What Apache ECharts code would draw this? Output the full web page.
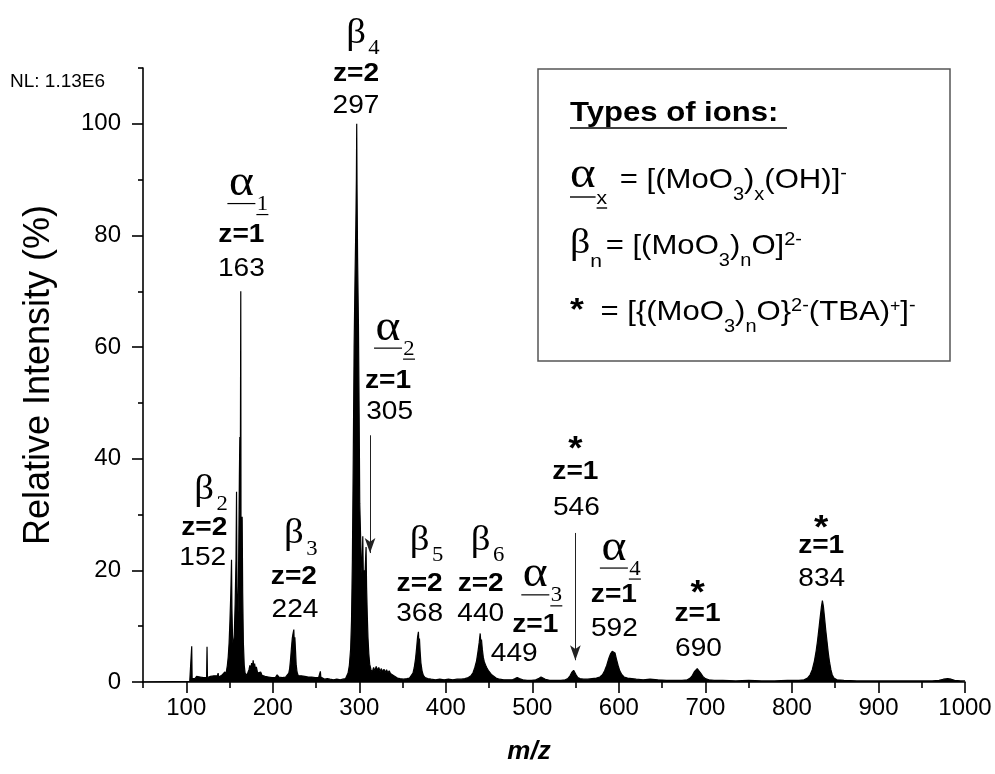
<!DOCTYPE html>
<html><head><meta charset="utf-8">
<script src="https://cdn.jsdelivr.net/npm/echarts@6/dist/echarts.min.js"></script>
<style>html,body{margin:0;padding:0;background:#fff}#c{width:995px;height:774px}</style>
</head><body><div id="c"></div>
<script>
// ---------- DATA ----------
const spectrum = [
[50,0],[104,0.1],[105.8,0.3],[106.3,6.4],[106.8,0.6],[108,0.9],[110,0.6],[112,1.0],[114,0.7],[116,0.9],[118,0.6],[120,0.8],[122,0.6],[123.5,0.8],[124,6.3],[124.5,0.8],[126,0.7],[128,1.0],[130,0.8],[132,1.1],[134,0.8],[136,1.1],[136.8,1.6],[137.5,0.9],[139,1.0],[141,1.2],[143,1.1],[144.6,1.8],[145.3,1.2],[146.5,2.0],[147.5,3.0],[148.5,4.5],[149.5,7],[150.5,11],[151.5,16],[152.3,21.9],[152.8,13],[153.5,8],[154.5,6],[155.5,8.5],[156.5,14],[157.5,22],[158.1,34.1],[158.6,17],[159.3,11],[160,13],[160.8,26],[161.4,37],[161.9,43.9],[162.4,31],[163,70],[163.3,24],[164,27],[164.6,29.6],[165.2,16],[166,7],[167,3],[168,1.6],[169.5,1.2],[171,1.6],[172.5,2.2],[173.5,3.0],[174.5,2.2],[175.5,3.4],[176.5,2.5],[177.3,3.9],[178,2.8],[179,3.3],[180,2.2],[181,2.7],[182.5,1.6],[184,1.3],[186,1.8],[187.5,1.2],[189,1.5],[191,1.0],[193,1.3],[195,0.9],[197,1.2],[199,0.8],[201,1.1],[203,0.8],[205,1.3],[207,0.9],[209,1.1],[211,0.8],[213,1.0],[215,0.9],[217,1.2],[218.5,1.6],[219.5,2.4],[220.5,4],[221.5,6],[222.5,7.8],[223.3,8.6],[224.3,9.4],[224.8,7.2],[225.5,8.0],[226.3,5.5],[227,3.2],[228,1.8],[229.5,1.1],[231,0.9],[233,1.1],[235,0.8],[237,1.0],[239,0.7],[241,0.9],[243,0.7],[245,0.9],[247,0.6],[249,0.8],[251,0.6],[253,0.8],[254.5,1.0],[255,1.9],[255.5,0.9],[257,0.6],[260,0.5],[263,0.6],[266,0.5],[270,0.4],[274,0.5],[278,0.4],[281,0.5],[284,0.6],[285.5,0.9],[287,1.6],[288.5,3],[290,6],[291,11],[292,22],[293,40],[294,60],[295,72],[296,82],[296.6,90],[297,100],[297.4,88],[298,76],[299,64],[299.8,48],[300.5,32],[301.5,26],[302.5,21],[303.3,19],[304,26.1],[304.8,17],[305.5,20],[306.3,18],[307,21],[307.8,24.2],[308.4,17],[309.2,12],[310,8],[311,5],[312,3.2],[313.5,2.2],[315,1.8],[316.5,2.6],[318,2.0],[319.5,2.8],[321,2.1],[322.5,2.6],[324,1.9],[325.5,2.4],[327,1.8],[328.5,2.3],[330,1.7],[331.5,2.2],[333,1.6],[334.5,2.0],[336,1.5],[337.5,1.8],[339,1.2],[341,0.9],[344,0.7],[347,0.6],[351,0.5],[355,0.6],[358,0.7],[360,1.0],[362,1.6],[363.5,2.6],[365,4.2],[366.3,6.2],[367.3,8],[368.3,9.0],[368.8,7.2],[369.5,7.8],[370.3,5.4],[371.2,3.4],[372.5,2.0],[374,1.2],[376,0.8],[379,0.6],[383,0.5],[388,0.4],[393,0.5],[398,0.4],[403,0.5],[408,0.4],[413,0.5],[418,0.5],[422,0.6],[426,0.8],[429,1.1],[431.5,1.7],[433.5,2.6],[435.5,3.8],[437,5.3],[438.5,7],[439.7,8.7],[440.4,7.2],[441.2,7.6],[442.2,5.8],[443.3,4.4],[444.5,3.6],[446,3.0],[447.5,2.5],[449,2.1],[451,1.7],[453,1.3],[455,1.0],[458,0.7],[462,0.5],[467,0.4],[472,0.4],[477,0.4],[480,0.6],[482.5,0.8],[485,0.6],[489,0.4],[494,0.3],[499,0.3],[504,0.4],[507,0.6],[510,0.9],[512,0.8],[515,0.5],[520,0.3],[527,0.3],[533,0.3],[538,0.4],[541,0.6],[543.5,1.1],[545.5,1.7],[547.7,2.1],[549,1.8],[550.5,1.3],[552.5,0.8],[555,0.6],[559,0.5],[564,0.5],[569,0.6],[574,0.7],[578,0.9],[581,1.3],[583.5,2.0],[586,3.0],[588.5,4.3],[590.5,5.1],[592.3,5.5],[594,5.8],[595.5,5.2],[597,4.2],[599,3.0],[601,2.0],[603.5,1.3],[606,0.9],[610,0.7],[615,0.6],[620,0.5],[628,0.4],[636,0.5],[645,0.4],[655,0.3],[665,0.3],[673,0.3],[679,0.4],[682.5,0.7],[685,1.2],[687.5,1.9],[690.5,2.4],[692.5,2.1],[694.5,1.6],[697,1.0],[700,0.6],[704,0.4],[710,0.3],[720,0.3],[735,0.2],[750,0.3],[765,0.2],[780,0.2],[795,0.3],[808,0.3],[814,0.4],[818,0.7],[821,1.3],[823.5,2.2],[826,3.8],[828,5.6],[829.5,7.3],[831,9.3],[832.5,11.4],[834,13.4],[835.2,14.6],[836.3,13.6],[837.5,11.8],[839,9.4],[840.5,7.3],[842,5.2],[843.5,3.5],[845,2.2],[846.5,1.3],[848.5,0.7],[852,0.4],[860,0.3],[875,0.2],[890,0.2],[905,0.2],[920,0.2],[935,0.2],[950,0.2],[962,0.2],[970,0.3],[975,0.5],[980,0.6],[984,0.5],[988,0.3],[995,0.2],[1000,0.2]
];
const xTicks = [100,200,300,400,500,600,700,800,900,1000];
const xMinorTicks = [50,150,250,350,450,550,650,750,850,950];
const yTicks = [0,20,40,60,80,100];
const yMinorTicks = [10,30,50,70,90,110];

// peak annotations (positions in m/z and % units)
const annoSymbol = ['β','β','α','β','α','β','β','α','*','α','*','*'];
const annoIndex  = ['2','3','1','4','2','5','6','3','','4','',''];
const annoCharge = ['z=2','z=2','z=1','z=2','z=1','z=2','z=2','z=1','z=1','z=1','z=1','z=1'];
const annoMass   = ['152','224','163','297','305','368','440','449','546','592','690','834'];
const annoX      = [120.8,224.4,163.7,296.2,333.2,369.7,440.3,503.4,549.7,594.2,690.9,833.8];
const annoXMass  = [119.1,225.6,163.7,296.2,335.0,369.7,440.3,479.0,550.8,594.8,692.0,834.4];
const annoYSymbol= [33.7,25.8,88.4,115.5,62.5,24.7,24.7,18.3,43.0,23.1,17.3,29.0];
const annoYCharge= [27.7,18.8,80.1,108.9,53.9,17.5,17.5,10.2,37.6,15.6,12.3,24.4];
const annoYMass  = [22.2,12.9,74.0,103.2,48.4,12.3,12.3,5.0,31.2,9.6,5.9,18.4];

// arrows pointing at small peaks
const arrowX    = [312.4, 549.7];
const arrowFrom = [44.2, 26.7];
const arrowTo   = [23.1, 3.9];

// ---------- CHART ----------
const SANS = '"Liberation Sans", Arial, sans-serif';
const SERIF = '"Liberation Serif", "Times New Roman", serif';
const SX = 1.08;
const SXK = 1.11;
const axisStyle = {color:'#000', width:1.6};

const chart = echarts.init(document.getElementById('c'), null, {renderer:'canvas'});
const option = {
  animation:false,
  backgroundColor:'#fff',
  grid:{left:143, right:30, top:68, bottom:92},
  xAxis:[
    {type:'value', min:50, max:1000, interval:50,
     axisLine:{show:true, lineStyle:axisStyle},
     axisTick:{show:true, customValues:xTicks, length:11, lineStyle:axisStyle},
     axisLabel:{show:true, customValues:xTicks, margin:14, fontSize:24, color:'#000', fontFamily:SANS,
                formatter:v=>String(v)},
     splitLine:{show:false}},
    {type:'value', min:50, max:1000, interval:50, position:'bottom',
     axisLine:{show:false},
     axisTick:{show:true, customValues:xMinorTicks, length:6, lineStyle:axisStyle},
     axisLabel:{show:false}, splitLine:{show:false}}
  ],
  yAxis:[
    {type:'value', min:0, max:110, interval:20,
     name:'Relative Intensity (%)', nameLocation:'middle', nameGap:86, nameRotate:90,
     nameTextStyle:{fontSize:36, color:'#000', fontFamily:SANS},
     axisLine:{show:true, lineStyle:axisStyle},
     axisTick:{show:true, customValues:yTicks, length:11, lineStyle:axisStyle},
     axisLabel:{show:true, customValues:yTicks, margin:22, fontSize:24, color:'#000', fontFamily:SANS},
     splitLine:{show:false}},
    {type:'value', min:0, max:110, interval:10, position:'left',
     axisLine:{show:false},
     axisTick:{show:true, customValues:yMinorTicks, length:5, lineStyle:axisStyle},
     axisLabel:{show:false}, splitLine:{show:false}}
  ],
  series:[{
    type:'line', xAxisIndex:0, yAxisIndex:0,
    data:spectrum, showSymbol:false, symbol:'none', smooth:false,
    lineStyle:{color:'#000', width:1.2},
    areaStyle:{color:'#000', opacity:1},
    emphasis:{disabled:true}, silent:true,
    markLine:{
      silent:true, symbol:['none','arrow'], symbolSize:[8,15], animation:false,
      label:{show:false}, emphasis:{disabled:true},
      lineStyle:{color:'#222', width:1, type:'solid'},
      data: arrowX.map((x,i)=>[{coord:[x, arrowFrom[i]]},{coord:[x, arrowTo[i]]}])
    }
  }]
};
chart.setOption(option);

// ---------- TEXT ANNOTATIONS ----------
const P = (x,y)=>chart.convertToPixel({xAxisIndex:0, yAxisIndex:0},[x,y]);
const mctx = document.createElement('canvas').getContext('2d');
function measure(t, font){ mctx.font = font; return mctx.measureText(t).width; }
function txt(x, y, t, font, align, sx){
  return {type:'text', x:x, y:y, scaleX:(sx==null?SX:sx), silent:true, z:100,
    style:{text:t, font:font, fill:'#000', align:align||'center', textAlign:align||'center',
           verticalAlign:'middle', textVerticalAlign:'middle'}};
}
function hline(x1, x2, y, w){
  return {type:'line', silent:true, z:100, shape:{x1:x1, y1:y, x2:x2, y2:y}, style:{stroke:'#000', lineWidth:w||1.3}};
}
function run(x0, base, segs){
  let x = x0; const out = [];
  segs.forEach(s=>{
    const font = (s.w||'normal') + ' ' + s.s + 'px ' + (s.f||SANS);
    const w = measure(s.t, font) * SXK;
    const yb = base + (s.dy||0);
    out.push(txt(x, yb - 0.35*s.s, s.t, font, 'left', SXK));
    if (s.u) out.push(hline(x + (s.ul||0), x + w + (s.ur||0), yb + (s.uo||3), 1.4));
    x += w + (s.gap||0);
  });
  return out;
}

const els = [];
for (let i=0;i<annoMass.length;i++){
  const pg = P(annoX[i], annoYSymbol[i]);
  const pz = P(annoX[i], annoYCharge[i]);
  const pn = P(annoXMass[i], annoYMass[i]);
  const s = annoSymbol[i];
  if (s==='β'){
    els.push(txt(pg[0], pg[1]-4, 'β', '36px '+SERIF));
    els.push(txt(pg[0]+18, pg[1]+11, annoIndex[i], '21px '+SERIF));
  } else if (s==='α'){
    els.push(txt(pg[0], pg[1]-5, 'α', '44px '+SERIF));
    els.push(hline(pg[0]-14, pg[0]+14, pg[1]+15, 1.2));
    els.push(txt(pg[0]+21, pg[1]+16, annoIndex[i], '21px '+SERIF));
    els.push(hline(pg[0]+15, pg[0]+27, pg[1]+26, 1.2));
  } else {
    els.push(txt(pg[0], pg[1]+8, '*', 'bold 34px '+SANS));
  }
  els.push(txt(pz[0], pz[1], annoCharge[i], 'bold 26px '+SANS));
  els.push(txt(pn[0], pn[1], annoMass[i], '26px '+SANS));
}

// NL label and x-axis title
els.push(txt(10, 82, 'NL: 1.13E6', '19px '+SANS, 'left', 1));
els.push(txt(529, 752, 'm/z', 'italic bold 26px '+SANS, 'center', 1));

// key box
els.push({type:'rect', silent:true, z:90, shape:{x:538, y:69, width:412, height:292},
  style:{fill:'#fff', stroke:'#555', lineWidth:1.5}});
els.push(...run(570, 123, [{t:'Types of ions: ', s:28, w:'bold', u:true, uo:5}]));
els.push(...run(570, 190, [
  {t:'α', s:44, f:SERIF, dy:1, u:true, uo:6, gap:1},
  {t:'x', s:19, dy:15, u:true, uo:3, gap:4},
  {t:' = [(MoO', s:28},
  {t:'3', s:18, dy:11},
  {t:')', s:28},
  {t:'x', s:18, dy:11},
  {t:'(OH)]', s:28},
  {t:'-', s:18, dy:-10}
]));
els.push(...run(570, 256, [
  {t:'β', s:36, f:SERIF},
  {t:'n', s:19, dy:12, gap:-5},
  {t:' = [(MoO', s:28},
  {t:'3', s:18, dy:11},
  {t:')', s:28},
  {t:'n', s:18, dy:11},
  {t:'O]', s:28},
  {t:'2-', s:18, dy:-10}
]));
els.push(...run(570, 322, [
  {t:'*', s:32, w:'bold', gap:8},
  {t:' = [{(MoO', s:28},
  {t:'3', s:18, dy:11},
  {t:')', s:28},
  {t:'n', s:18, dy:11},
  {t:'O}', s:28},
  {t:'2-', s:18, dy:-10},
  {t:'(TBA)', s:28},
  {t:'+', s:16, dy:-10},
  {t:']', s:28},
  {t:'-', s:18, dy:-10}
]));

chart.setOption({graphic:{elements:els}});
</script>
</body></html>
